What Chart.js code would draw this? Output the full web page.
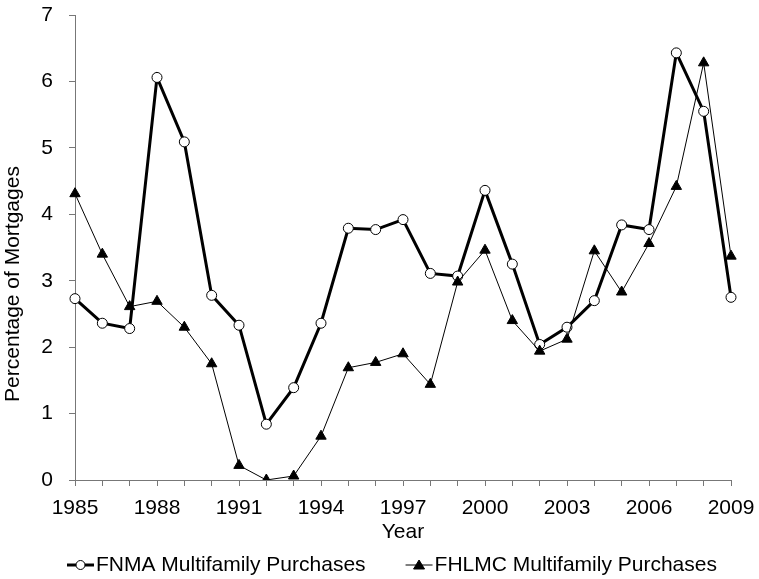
<!DOCTYPE html>
<html>
<head>
<meta charset="utf-8">
<script src="https://cdn.jsdelivr.net/npm/chart.js@4"></script>
<style>
  html, body { margin: 0; padding: 0; background: #fff; }
  canvas { display: block; }
</style>
</head>
<body>
<canvas id="lineChart" width="759" height="579"></canvas>
<script>
const years = [1985, 1986, 1987, 1988, 1989, 1990, 1991, 1992, 1993, 1994, 1995, 1996,
  1997, 1998, 1999, 2000, 2001, 2002, 2003, 2004, 2005, 2006, 2007, 2008, 2009];
const fnma = [2.73, 2.36, 2.28, 6.06, 5.09, 2.78, 2.33, 0.84, 1.39, 2.36, 3.79, 3.77,
  3.92, 3.11, 3.07, 4.36, 3.25, 2.04, 2.30, 2.70, 3.84, 3.77, 6.43, 5.55, 2.75];
const fhlmc = [4.31, 3.40, 2.61, 2.69, 2.30, 1.75, 0.22, 0.00, 0.06, 0.66, 1.69, 1.77,
  1.90, 1.44, 2.98, 3.46, 2.40, 1.94, 2.12, 3.45, 2.83, 3.56, 4.42, 6.28, 3.37];
const seriesNames = ['FNMA Multifamily Purchases', 'FHLMC Multifamily Purchases'];
const yTitle = 'Percentage of Mortgages';
const xTitle = 'Year';

const FONT = 'Liberation Sans, Arial, sans-serif';
const AXIS = '#777';

// y title, drawn beside the axis
const yTitlePlugin = {
  id: 'yTitle',
  afterDraw(chart) {
    const ctx = chart.ctx;
    ctx.save();
    ctx.translate(13, 284);
    ctx.rotate(-Math.PI / 2);
    ctx.font = '21px ' + FONT;
    ctx.fillStyle = '#000';
    ctx.textAlign = 'center';
    ctx.textBaseline = 'middle';
    ctx.fillText(yTitle, 0, 0);
    ctx.restore();
  }
};

// legend with a line sample and marker, like the original
const lineLegend = {
  id: 'lineLegend',
  afterDraw(chart) {
    const ctx = chart.ctx;
    const y = 565;
    let x = chart.chartArea.left - 8;
    ctx.save();
    ctx.font = '21px ' + FONT;
    ctx.textBaseline = 'middle';
    chart.data.datasets.slice().sort((a, b) => a.legendPos - b.legendPos).forEach(ds => {
      ctx.strokeStyle = '#000';
      ctx.lineWidth = ds.borderWidth;
      ctx.beginPath();
      ctx.moveTo(x, y);
      ctx.lineTo(x + 27, y);
      ctx.stroke();
      ctx.lineWidth = 1;
      ctx.fillStyle = ds.pointBackgroundColor;
      ctx.beginPath();
      if (ds.pointStyle === 'circle') {
        ctx.arc(x + 13.5, y, 4.5, 0, Math.PI * 2);
      } else {
        ctx.moveTo(x + 13.5, y - 5);
        ctx.lineTo(x + 19, y + 4);
        ctx.lineTo(x + 8, y + 4);
        ctx.closePath();
      }
      ctx.fill();
      ctx.stroke();
      ctx.fillStyle = '#000';
      ctx.fillText(ds.label, x + 29, y);
      x += 29 + ctx.measureText(ds.label).width + 40;
    });
    ctx.restore();
  }
};

new Chart(document.getElementById('lineChart').getContext('2d'), {
  type: 'line',
  data: {
    labels: years,
    datasets: [
      {
        label: seriesNames[0],
        data: fnma,
        borderColor: '#000',
        borderWidth: 3,
        pointStyle: 'circle',
        pointRadius: 5,
        pointBorderWidth: 1,
        pointBackgroundColor: '#fff',
        pointBorderColor: '#000',
        tension: 0,
        order: 1,
        legendPos: 0
      },
      {
        label: seriesNames[1],
        data: fhlmc,
        borderColor: '#000',
        borderWidth: 1,
        pointStyle: 'triangle',
        pointRadius: 6,
        pointBorderWidth: 1,
        pointBackgroundColor: '#000',
        pointBorderColor: '#000',
        tension: 0,
        order: 0,
        legendPos: 1
      }
    ]
  },
  options: {
    responsive: false,
    animation: false,
    layout: { padding: { top: 15, right: 28, left: 0, bottom: 34 } },
    plugins: {
      legend: { display: false },
      tooltip: { enabled: false }
    },
    scales: {
      x: {
        type: 'category',
        offset: false,
        grid: { drawOnChartArea: false, tickLength: 6, color: AXIS },
        border: { color: AXIS, width: 1 },
        ticks: {
          autoSkip: false,
          maxRotation: 0,
          padding: 10,
          color: '#000',
          font: { family: FONT, size: 21 },
          // label every third year, starting from 1985
          callback: (v, i) => ((years[i] - years[0]) % 3 === 0 ? String(years[i]) : '')
        },
        title: {
          display: true,
          text: xTitle,
          color: '#000',
          font: { family: FONT, size: 21 },
          padding: 0
        },
        afterFit: s => {
          s.height = 65;
          s.paddingLeft = 0;
          s.paddingRight = 0;
        }
      },
      y: {
        min: 0,
        max: 7,
        grid: { drawOnChartArea: false, tickLength: 6, color: AXIS },
        border: { color: AXIS, width: 1 },
        ticks: {
          stepSize: 1,
          padding: 16,
          color: '#000',
          font: { family: FONT, size: 21 }
        },
        afterFit: s => {
          s.width = 75;
          s.paddingTop = 0;
          s.paddingBottom = 0;
        }
      }
    }
  },
  plugins: [yTitlePlugin, lineLegend]
});
</script>
</body>
</html>
